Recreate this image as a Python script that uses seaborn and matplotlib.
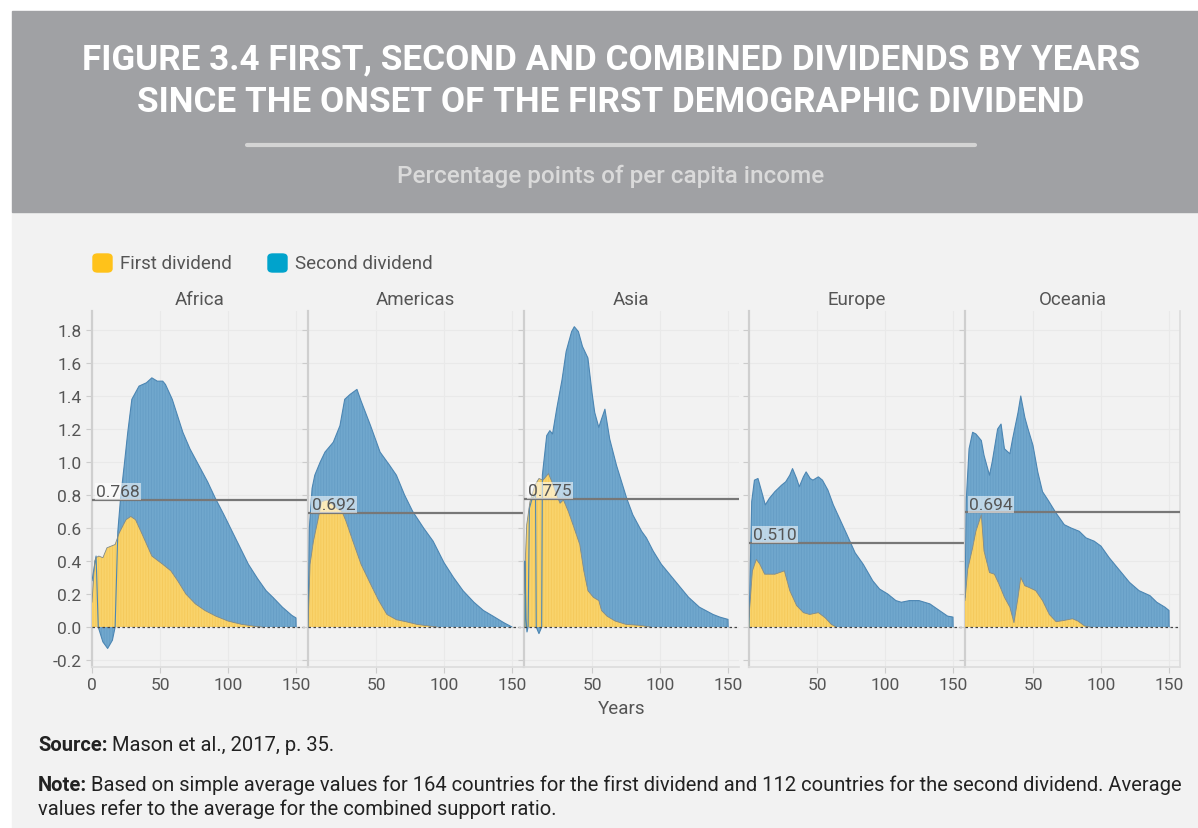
import numpy as np
import pandas as pd
import seaborn as sns
import matplotlib.pyplot as plt
from matplotlib.patches import Rectangle, FancyBboxPatch
from matplotlib.lines import Line2D

# 数据：各地区第一/第二红利（百分点），按起始后年份
regions = ['Africa', 'Americas', 'Asia', 'Europe', 'Oceania']
averages = [0.768, 0.692, 0.775, 0.510, 0.694]

africa_years_2 = [0, 3, 4.6, 8, 11.5, 15, 17, 19, 21, 23.7, 26.3, 29.3, 34.6, 40, 44, 48, 52, 54, 59, 66.8, 72, 78.5, 85, 90.7,
                  97, 103, 109, 115, 122, 128, 133, 140, 147, 150, 150.1]
africa_second = [0.28, 0.43, 0.0, -0.09, -0.13, -0.08, 0.0, 0.58, 0.78, 0.98, 1.18, 1.38, 1.46, 1.48, 1.51, 1.49, 1.49, 1.47, 1.38,
                 1.18, 1.08, 0.98, 0.88, 0.78, 0.68, 0.58, 0.48, 0.38, 0.29, 0.22, 0.18, 0.12, 0.07, 0.055, 0.0]
africa_years_1 = [0, 2, 3, 5, 8, 11, 14, 17, 20, 25, 28.5, 32, 37, 44, 52, 58, 63, 69, 76, 83, 91, 100, 110, 120, 125]
africa_first = [0.15, 0.40, 0.42, 0.43, 0.42, 0.48, 0.49, 0.50, 0.57, 0.65, 0.67, 0.65, 0.56, 0.43, 0.38, 0.34, 0.28, 0.20,
                0.14, 0.10, 0.066, 0.036, 0.016, 0.004, 0.0]

americas_years_2 = [0, 1, 3, 5, 9, 12.5, 18.6, 23.5, 27, 31, 36, 39, 46, 53, 60, 65, 71, 77, 85, 92, 100, 107, 114, 122, 129,
                    136, 144, 150]
americas_second = [0.0, 0.6, 0.84, 0.92, 1.0, 1.06, 1.12, 1.22, 1.38, 1.41, 1.44, 1.37, 1.22, 1.06, 0.98, 0.92, 0.80, 0.70,
                   0.60, 0.52, 0.39, 0.30, 0.22, 0.15, 0.10, 0.066, 0.026, 0.0]
americas_years_1 = [0, 1.5, 4, 7.6, 10, 14, 17, 21, 25, 28, 33, 39, 46, 52, 58, 65, 72, 80, 87, 95]
americas_first = [0.0, 0.38, 0.52, 0.66, 0.76, 0.77, 0.75, 0.72, 0.70, 0.64, 0.52, 0.38, 0.26, 0.16, 0.076, 0.044, 0.032,
                  0.016, 0.008, 0.0]

asia_years_2 = [0.7, 0.7, 1.5, 2.2, 3.0, 4.0, 6.0, 8.5, 9.0, 11.0, 13.0, 13.5, 16.7, 19, 21, 24, 28, 31, 35, 37, 40, 43, 47,
                50, 52, 55, 57, 59.5, 63, 68, 75.5, 80, 86.5, 90, 95, 101, 107, 115, 121, 129, 139, 144, 150, 150.1]
asia_second = [0.0, 0.40, 0.05, -0.03, 0.0, 0.72, 0.78, 0.80, 0.0, -0.04, 0.0, 0.92, 1.16, 1.19, 1.17, 1.32, 1.50, 1.67,
               1.79, 1.82, 1.79, 1.70, 1.63, 1.42, 1.30, 1.21, 1.26, 1.32, 1.14, 0.98, 0.78, 0.68, 0.58, 0.54, 0.46, 0.38,
               0.32, 0.24, 0.18, 0.12, 0.076, 0.06, 0.046, 0.0]
asia_years_1 = [0, 2, 4.4, 8, 11, 14, 18, 21.5, 24, 26.5, 29, 32.6, 36, 41, 44, 47, 51, 55, 57, 61, 67, 75, 85, 93]
asia_first = [0.2, 0.62, 0.76, 0.86, 0.90, 0.89, 0.93, 0.86, 0.80, 0.75, 0.77, 0.70, 0.62, 0.50, 0.34, 0.22, 0.18, 0.16,
              0.10, 0.066, 0.036, 0.016, 0.01, 0.0]

europe_years_2 = [0, 2, 4, 6.6, 9, 12, 15, 19, 24, 27, 30, 32, 35, 37, 40, 42, 45, 47, 51, 54, 58, 62, 67, 72, 78, 84, 91,
                  96, 102, 108, 112, 118, 125, 133, 140, 146, 150, 150.1]
europe_second = [0.0, 0.76, 0.89, 0.90, 0.83, 0.74, 0.78, 0.82, 0.86, 0.88, 0.92, 0.96, 0.90, 0.85, 0.91, 0.94, 0.90, 0.89,
                 0.91, 0.89, 0.83, 0.74, 0.65, 0.56, 0.45, 0.38, 0.28, 0.23, 0.20, 0.16, 0.15, 0.16, 0.16, 0.14, 0.10,
                 0.066, 0.06, 0.0]
europe_years_1 = [0, 2.5, 5.4, 8, 11.5, 15, 19, 22.5, 26, 30, 35, 40, 44.6, 51, 56, 60.5, 64]
europe_first = [0.06, 0.34, 0.41, 0.38, 0.32, 0.32, 0.32, 0.33, 0.34, 0.22, 0.13, 0.087, 0.076, 0.087, 0.056, 0.016, 0.0]

oceania_years_2 = [0, 1, 3, 5.6, 8, 12, 14, 18, 20, 24, 26.5, 29, 33, 35, 39, 41, 44, 46, 50, 53.5, 57, 61, 67, 73, 78, 84,
                   89, 95, 100, 106, 114, 121, 128, 136, 141, 147, 150, 150.1]
oceania_second = [0.18, 0.78, 1.08, 1.18, 1.17, 1.13, 1.04, 0.92, 1.00, 1.20, 1.23, 1.08, 1.05, 1.14, 1.30, 1.40, 1.27, 1.21,
                  1.10, 0.94, 0.82, 0.77, 0.69, 0.62, 0.60, 0.58, 0.54, 0.52, 0.49, 0.42, 0.34, 0.27, 0.22, 0.19, 0.15,
                  0.12, 0.10, 0.0]
oceania_years_1 = [0, 2, 5.6, 8, 12, 14, 18, 21.6, 25, 29, 33, 36, 39, 41, 44, 47, 52, 57, 62, 67, 73, 79, 83, 88, 92]
oceania_first = [0.16, 0.35, 0.48, 0.58, 0.68, 0.46, 0.33, 0.32, 0.26, 0.18, 0.12, 0.026, 0.18, 0.30, 0.25, 0.24, 0.22,
                 0.16, 0.076, 0.032, 0.04, 0.05, 0.036, 0.006, 0.0]

first = [(africa_years_1, africa_first), (americas_years_1, americas_first), (asia_years_1, asia_first),
         (europe_years_1, europe_first), (oceania_years_1, oceania_first)]
second = [(africa_years_2, africa_second), (americas_years_2, americas_second), (asia_years_2, asia_second),
          (europe_years_2, europe_second), (oceania_years_2, oceania_second)]

sns.set_theme(style='white')
plt.rcParams['font.family'] = ['Roboto', 'DejaVu Sans']
plt.rcParams['hatch.linewidth'] = 0.6

W, H = 1198, 829
fig = plt.figure(figsize=(W / 100, H / 100), dpi=100)
fig.patch.set_facecolor('white')

# 背景和标题栏
fig.add_artist(Rectangle((12 / W, 0), 1, (H - 213) / H, transform=fig.transFigure, color='#f2f2f2', zorder=-2))
fig.add_artist(Rectangle((12 / W, (H - 213) / H), 1, 201 / H, transform=fig.transFigure, color='#a0a1a4', zorder=-2))
fig.text(611 / W, 1 - 60 / H, 'FIGURE 3.4 FIRST, SECOND AND COMBINED DIVIDENDS BY YEARS', ha='center', va='center',
         color='white', fontsize=25.2, fontweight='bold')
fig.text(611 / W, 1 - 103 / H, 'SINCE THE ONSET OF THE FIRST DEMOGRAPHIC DIVIDEND', ha='center', va='center',
         color='white', fontsize=25.2, fontweight='bold')
fig.add_artist(Line2D([247 / W, 975 / W], [1 - 146 / H] * 2, transform=fig.transFigure, color='#d4d4d4', lw=3))
fig.text(611 / W, 1 - 176 / H, 'Percentage points of per capita income', ha='center', va='center',
         color='#dadada', fontsize=17.5, fontweight='medium')

# 图例
yellow, blue = '#ffc21a', '#00a3cc'
for x0, c, lab in [(93, yellow, 'First dividend'), (268, blue, 'Second dividend')]:
    fig.add_artist(FancyBboxPatch((x0 / W, 1 - 273 / H), 19 / W, 18 / H, boxstyle='round,pad=0,rounding_size=0.004',
                                  transform=fig.transFigure, color=c))
    fig.text((x0 + 27) / W, 1 - 264 / H, lab, ha='left', va='center', color='#555555', fontsize=13.5)

lefts = [92, 308, 524, 749, 965]
pw = 215
bottom, top = 668, 312
fill_blue, line_blue = '#70a7cd', '#4c86b3'
fill_yel = '#f9d36b'

for i, name in enumerate(regions):
    ax = fig.add_axes([lefts[i] / W, (H - bottom) / H, pw / W, (bottom - top) / H])
    ax.set_facecolor('none')
    x2, y2 = second[i]
    x1, y1 = first[i]
    ax.fill_between(x2, 0, y2, facecolor=fill_blue, edgecolor='#659dc5', hatch='||||||', linewidth=0, zorder=2)
    ax.fill_between(x1, 0, y1, facecolor=fill_yel, edgecolor='#f5c95a', hatch='||||||', linewidth=0, zorder=3)
    sns.lineplot(x=x2, y=y2, ax=ax, color=line_blue, lw=0.8, sort=False, estimator=None, zorder=4)
    sns.lineplot(x=x1, y=y1, ax=ax, color='#7f8a8c', lw=0.6, sort=False, estimator=None, zorder=4)
    ax.axhline(0, color='#444444', lw=0.9, ls=(0, (2, 2)), zorder=5)
    ax.axhline(averages[i], color='#777777', lw=1.6, zorder=6)
    ax.text(3, averages[i] + 0.005, f'{averages[i]:.3f}', ha='left', va='bottom', fontsize=12.5, color='#555555', zorder=7,
            bbox=dict(facecolor='white', alpha=0.55, edgecolor='none', pad=0.8))

    ax.set_xlim(0, pw / 1.36)
    ax.set_ylim(-40 / 165, (628 - top) / 165)
    ax.set_yticks(np.arange(-0.2, 1.81, 0.2))
    ax.set_xticks([0, 50, 100, 150] if i == 0 else [50, 100, 150])
    ax.grid(True, color='#e9e9e9', lw=0.8, zorder=0)
    ax.set_axisbelow(True)
    ax.tick_params(axis='both', colors='#555555', labelsize=12.5, length=4, width=0.8, color='#cccccc', left=True, bottom=True)
    if i == 0:
        ax.set_yticklabels([f'{v:.1f}' for v in np.arange(-0.2, 1.81, 0.2)])
    else:
        ax.set_yticklabels([])
    for s in ['top', 'right']:
        ax.spines[s].set_visible(False)
    ax.spines['left'].set_color('#cfcfcf')
    ax.spines['left'].set_linewidth(1.6)
    ax.spines['bottom'].set_color('#dddddd')
    if i == 4:
        ax.spines['right'].set_visible(True)
        ax.spines['right'].set_color('#dddddd')
    ax.set_xlabel('')
    ax.set_ylabel('')
    ax.set_title(name, fontsize=13.5, color='#555555', pad=5)

fig.text(622 / W, 1 - 709 / H, 'Years', ha='center', va='center', fontsize=13.5, color='#555555')

# 注释：粗体标签后接正文
fs = 14.5
src = fig.text(38 / W, 1 - 746 / H, 'Source:', ha='left', va='center', fontsize=fs, fontweight='bold', color='#222222')
note = fig.text(38 / W, 1 - 786 / H, 'Note:', ha='left', va='center', fontsize=fs, fontweight='bold', color='#222222')
fig.text(38 / W, 1 - 809 / H, 'values refer to the average for the combined support ratio.', ha='left', va='center',
         fontsize=fs, color='#222222')
ann_kw = dict(xy=(1, 0), xytext=(3, 0), textcoords='offset points', ha='left', va='bottom', fontsize=fs,
              color='#222222', annotation_clip=False)
fig.axes[0].annotate('Mason et al., 2017, p. 35.', xycoords=src, **ann_kw)
fig.axes[0].annotate('Based on simple average values for 164 countries for the first dividend and 112 countries '
                     'for the second dividend. Average', xycoords=note, **ann_kw)

fig.savefig('out.png', dpi=100, facecolor=fig.get_facecolor())
